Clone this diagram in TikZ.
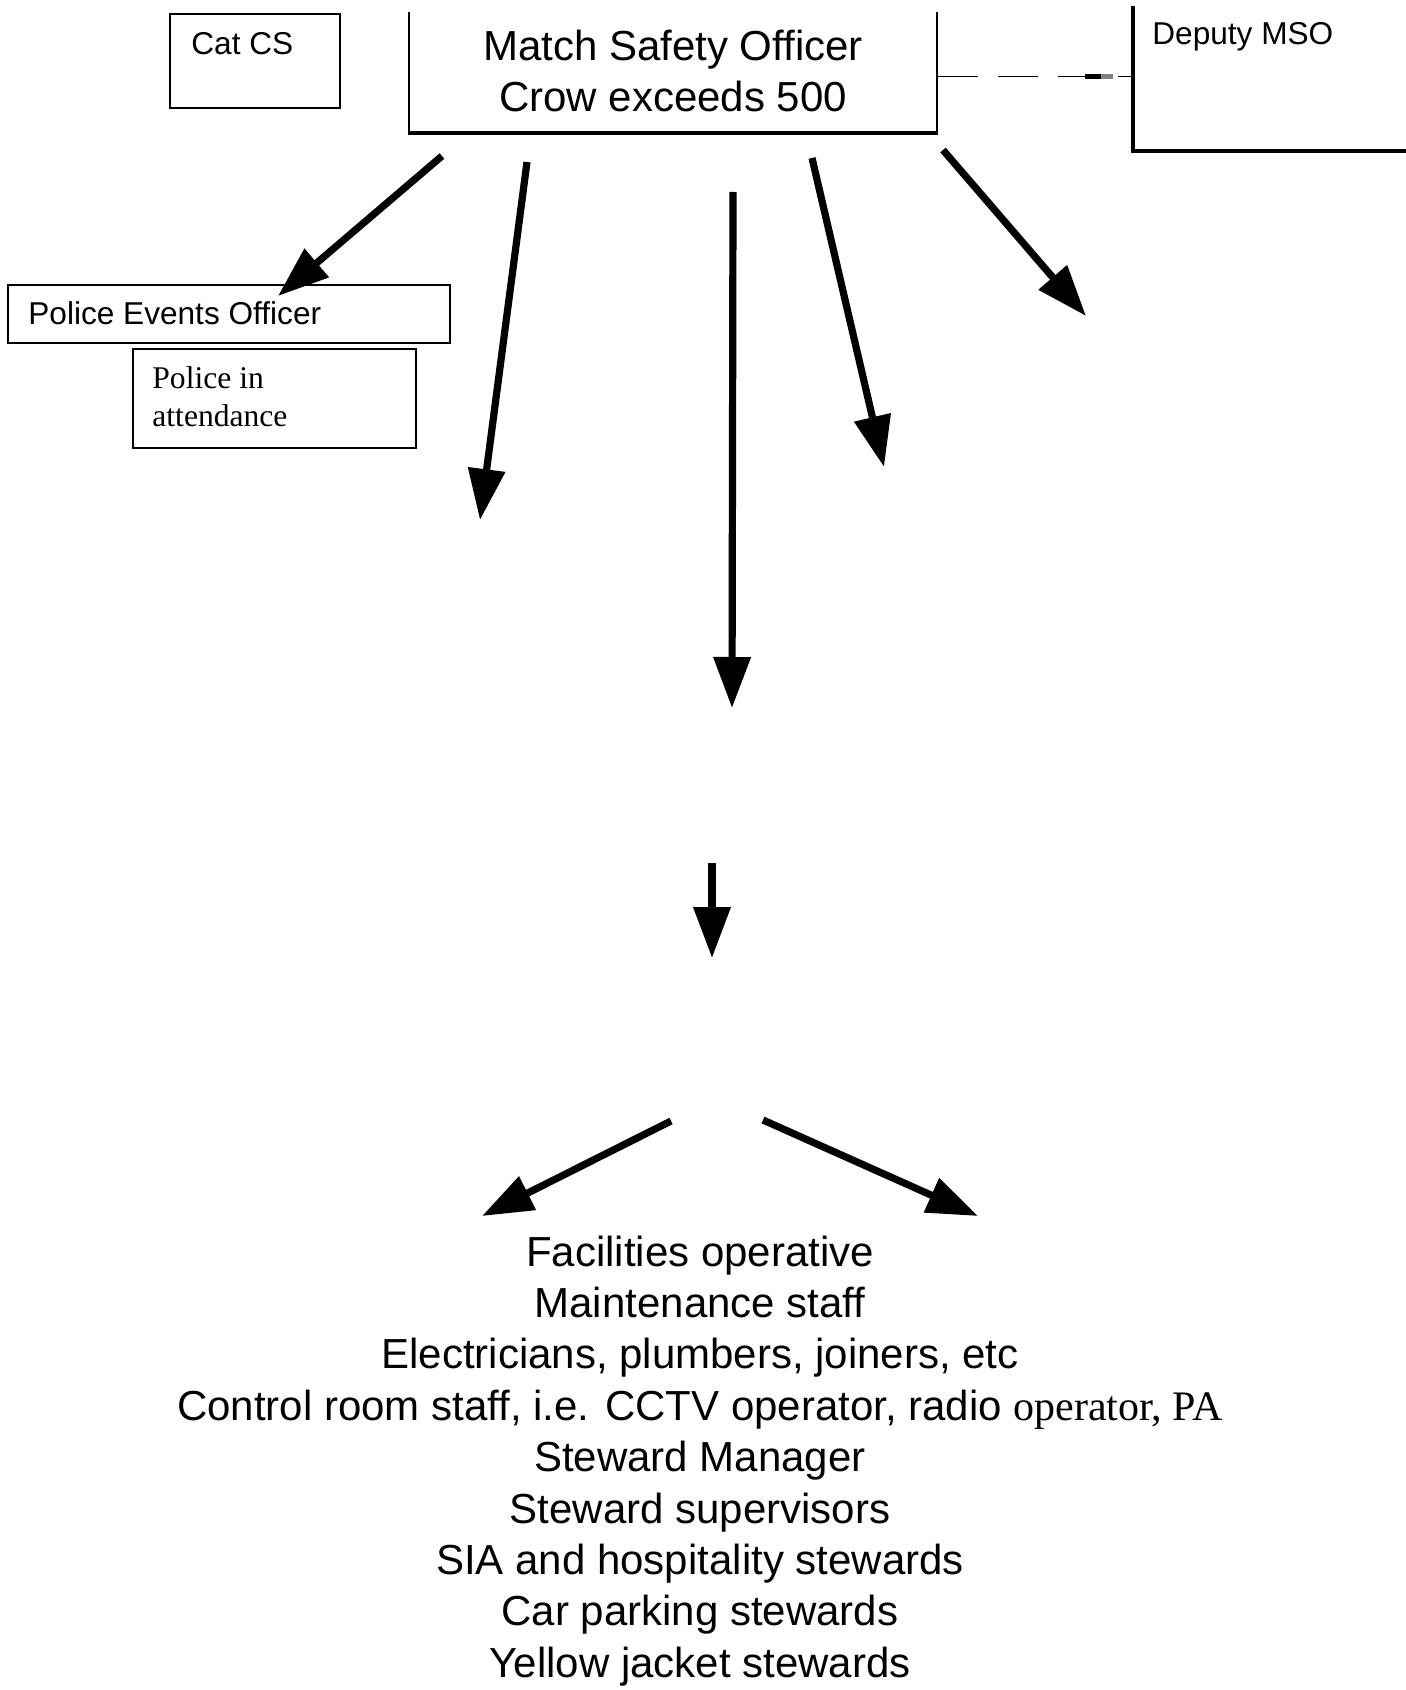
\documentclass[tikz,border=0pt]{standalone}
\usepackage{fontspec}
\setmainfont{Liberation Sans}
\newfontfamily\timesfont{Liberation Serif}
\usetikzlibrary{arrows.meta}

\begin{document}
\begin{tikzpicture}[x=0.5pt,y=-0.5pt,
  bigarrow/.style={line width=3.6pt,-{Triangle[length=25.5pt,width=18pt]}},
  smalltext/.style={font=\fontsize{15.8pt}{19pt}\selectfont,inner sep=0,anchor=base west},
  bigtext/.style={font=\fontsize{21pt}{25.7pt}\selectfont,inner sep=0,anchor=base},
  thinbox/.style={line width=1pt}]
\useasboundingbox (0,0) rectangle (1406,1690);

% boxes at the top
\draw[thinbox] (170,14) rectangle (340,108);
\node[smalltext] (catcs) at (191,55) {Cat CS};

\draw[thinbox] (409,12) -- (409,133);
\draw[thinbox] (937,12) -- (937,133);
\draw[line width=1.6pt] (408,133) -- (938,133);
\node[bigtext] (mso1) at (673,61) {Match Safety Officer};
\node[bigtext] (mso2) at (673,112) {Crow exceeds 500};

\draw[line width=1.75pt] (1133,6) -- (1133,151) -- (1406,151);
\node[smalltext] (deputy) at (1152,45) {Deputy MSO};

\coordinate (msoright) at (938,77);
\coordinate (deputyleft) at (1133,77);
\draw[line width=0.5pt,dash pattern=on 20pt off 10pt] (msoright) -- (deputyleft);
\draw[line width=2.5pt] (1085,77) -- (1101,77);
\draw[line width=2.5pt,gray] (1101,77) -- (1113,77);

\draw[thinbox] (8,285) rectangle (450,343);
\node[smalltext] (peo) at (28,325) {Police Events Officer};
\draw[thinbox] (133,349) rectangle (416,448);
\node[smalltext,font=\timesfont\fontsize{15.8pt}{19pt}\selectfont] (pia1) at (152,388) {Police in};
\node[smalltext,font=\timesfont\fontsize{15.8pt}{19pt}\selectfont] (pia2) at (152,426) {attendance};

% arrows
\coordinate (a1) at (442,156); \coordinate (b1) at (278,296);
\coordinate (a2) at (527,162); \coordinate (b2) at (480,520);
\coordinate (a3) at (733,192); \coordinate (b3) at (732,708);
\coordinate (a4) at (812,158); \coordinate (b4) at (884,467);
\coordinate (a5) at (943,150); \coordinate (b5) at (1086,316);
\coordinate (a6) at (712,863); \coordinate (b6) at (712,958);
\coordinate (a7) at (671,1121); \coordinate (b7) at (482,1216);
\coordinate (a8) at (763,1120); \coordinate (b8) at (978,1216);
\draw[bigarrow] (a1) -- (b1);
\draw[bigarrow] (a2) -- (b2);
\draw[bigarrow] (a3) -- (b3);
\draw[bigarrow] (a4) -- (b4);
\draw[bigarrow] (a5) -- (b5);
\draw[bigarrow] (a6) -- (b6);
\draw[bigarrow] (a7) -- (b7);
\draw[bigarrow] (a8) -- (b8);

% staff list
\node[bigtext] (l1) at (700,1266) {Facilities operative};
\node[bigtext] (l2) at (700,1317.4) {Maintenance staff};
\node[bigtext] (l3) at (700,1368.8) {Electricians, plumbers, joiners, etc};
\node[bigtext] (l4) at (700,1420.2) {Control room staff, i.e. CCTV operator, radio {\timesfont operator, PA}};
\node[bigtext] (l5) at (700,1471.6) {Steward Manager};
\node[bigtext] (l6) at (700,1523) {Steward supervisors};
\node[bigtext] (l7) at (700,1574.4) {SIA and hospitality stewards};
\node[bigtext] (l8) at (700,1625.8) {Car parking stewards};
\node[bigtext] (l9) at (700,1677.2) {Yellow jacket stewards};
\end{tikzpicture}
\end{document}
